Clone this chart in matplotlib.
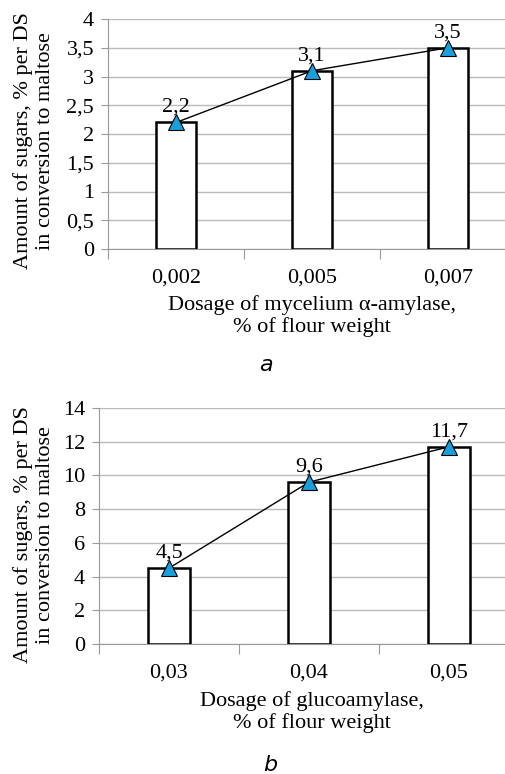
import matplotlib
matplotlib.use("Agg")
import matplotlib.pyplot as plt
import numpy as np

cats_a = ["0,002", "0,005", "0,007"]
vals_a = [2.2, 3.1, 3.5]
labels_a = ["2,2", "3,1", "3,5"]
yticks_a = [0, 0.5, 1, 1.5, 2, 2.5, 3, 3.5, 4]
yticklabels_a = ["0", "0,5", "1", "1,5", "2", "2,5", "3", "3,5", "4"]

cats_b = ["0,03", "0,04", "0,05"]
vals_b = [4.5, 9.6, 11.7]
labels_b = ["4,5", "9,6", "11,7"]
yticks_b = [0, 2, 4, 6, 8, 10, 12, 14]
yticklabels_b = ["0", "2", "4", "6", "8", "10", "12", "14"]

ylabel = "Amount of sugars, % per DS\nin conversion to maltose"
xlabel_a = "Dosage of mycelium \u03b1-amylase,\n% of flour weight"
xlabel_b = "Dosage of glucoamylase,\n% of flour weight"

W, H = 506, 774
fig = plt.figure(figsize=(W / 100, H / 100), dpi=100)
serif = "Liberation Serif"
fs = 16


def panel(rect, cats, vals, labels, yt, ytl, xlabel, ylab_y, xl_y1, cap, cap_y, cap_x):
    ax = fig.add_axes(rect)
    x = np.arange(len(cats))
    ax.bar(x, vals, width=0.3, color="white", edgecolor="black", linewidth=1.8, zorder=3)
    ax.plot(x, vals, color="black", linewidth=1.0, zorder=4)
    ax.plot(x, vals, linestyle="none", marker="^", markersize=12,
            markerfacecolor="#1A9FDD", markeredgecolor="black", markeredgewidth=0.8, zorder=5)
    for xi, v, l in zip(x, vals, labels):
        ax.annotate(l, (xi, v), xytext=(0, 4), textcoords="offset points",
                    ha="center", va="bottom", fontsize=fs, family=serif, zorder=6)
    ax.set_xlim(-0.5, len(cats) - 0.5)
    ax.set_ylim(yt[0], yt[-1])
    ax.set_yticks(yt)
    ax.set_yticklabels(ytl, fontsize=fs, family=serif)
    ax.set_xticks(np.arange(len(cats) + 1) - 0.5)
    ax.set_xticklabels([])
    ax.set_xticks(x, minor=True)
    ax.set_xticklabels(cats, minor=True, fontsize=fs, family=serif)
    ax.tick_params(axis="x", which="major", length=7, color="#999999", width=0.8)
    ax.tick_params(axis="x", which="minor", length=0, pad=14)
    ax.tick_params(axis="y", length=5, color="#999999", width=0.8, pad=5)
    ax.grid(axis="y", color="#BBBBBB", linewidth=1.0, zorder=0)
    ax.set_axisbelow(True)
    for s in ["top", "right"]:
        ax.spines[s].set_visible(False)
    for s in ["left", "bottom"]:
        ax.spines[s].set_color("#999999")
        ax.spines[s].set_linewidth(0.8)
    fig.text(34 / W, 1 - ylab_y / H, ylabel, rotation=90, ha="center", va="center",
             fontsize=fs, family=serif, linespacing=1.25)
    fig.text(312 / W, 1 - xl_y1 / H, xlabel, ha="center", va="center",
             fontsize=fs, family=serif, linespacing=1.15)
    fig.text(cap_x / W, 1 - cap_y / H, cap, ha="center", va="center",
             fontsize=16, family="DejaVu Sans", style="italic")
    return ax


panel([108 / W, 1 - 249 / H, 408 / W, 230 / H], cats_a, vals_a, labels_a,
      yticks_a, yticklabels_a, xlabel_a, 141, 316, "a", 365, 266)
panel([99 / W, 1 - 644 / H, 420 / W, 236 / H], cats_b, vals_b, labels_b,
      yticks_b, yticklabels_b, xlabel_b, 535, 712, "b", 765, 270)

fig.savefig("out.png", dpi=100)
